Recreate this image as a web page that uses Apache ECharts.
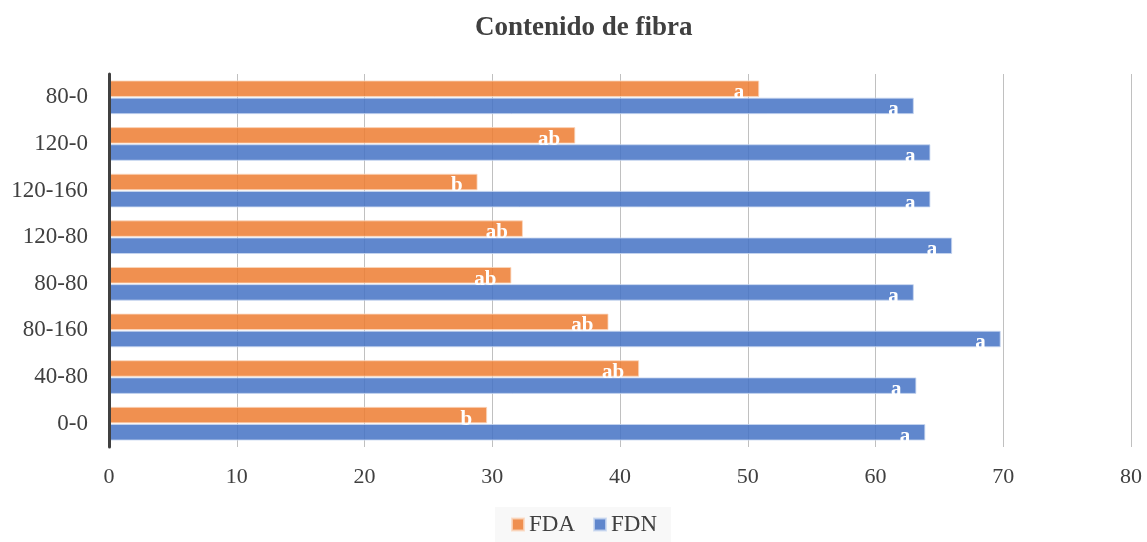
<!DOCTYPE html>
<html>
<head>
<meta charset="utf-8">
<script src="https://cdn.jsdelivr.net/npm/echarts@6/dist/echarts.min.js"></script>
<style>html,body{margin:0;padding:0;background:#fff}#c{width:1147px;height:542px}</style>
</head>
<body>
<div id="c"></div>
<script>
const categories = ['0-0','40-80','80-160','80-80','120-80','120-160','120-0','80-0'];
const fdaValues = [29.6, 41.5, 39.1, 31.5, 32.4, 28.85, 36.5, 50.9];
const fdnValues = [63.9, 63.2, 69.8, 63.0, 66.0, 64.3, 64.3, 63.0];
const fdaLetters = ['b','ab','ab','ab','ab','b','ab','a'];
const fdnLetters = ['a','a','a','a','a','a','a','a'];
const xTicks = [0,10,20,30,40,50,60,70,80];

const serif = '"Liberation Serif", "DejaVu Serif", serif';
const chart = echarts.init(document.getElementById('c'), null, {renderer:'canvas'});
function lbl(letters){
  return {show:true, position:'insideRight', offset:[-10,4], color:'#fff', fontFamily:serif,
    fontWeight:'bold', fontSize:21, formatter:p=>letters[p.dataIndex]};
}
chart.setOption({
  animation:false,
  title:{text:'Contenido de fibra', left:470, top:10,
    textStyle:{fontFamily:serif, fontWeight:'bold', fontSize:27, color:'#404040'}},
  legend:{bottom:0, left:495, icon:'rect', itemWidth:12, itemHeight:12, itemGap:18,
    backgroundColor:'#f8f8f8', padding:[6,14,6,16],
    textStyle:{fontFamily:serif, fontSize:23, color:'#404040'},
    data:['FDA','FDN']},
  grid:{left:109, right:16, top:74, bottom:95, containLabel:false},
  xAxis:{type:'value', min:0, max:80, interval:10,
    axisLine:{show:false}, axisTick:{show:false},
    axisLabel:{fontFamily:serif, fontSize:22, color:'#404040', margin:19,
      formatter:v=>xTicks.includes(v)?String(v):''},
    splitLine:{lineStyle:{color:'#c0c0c0', width:1}}},
  yAxis:{type:'category', data:categories, z:5,
    axisLine:{lineStyle:{color:'#404040', width:3}}, axisTick:{show:false},
    axisLabel:{fontFamily:serif, fontSize:23, color:'#404040', margin:21}},
  series:[
    {name:'FDA', type:'bar', data:fdaValues, barWidth:16.5, barGap:'4%',
      itemStyle:{color:'rgba(237,125,49,0.85)', borderColor:'rgba(250,215,190,0.8)', borderWidth:1},
      label:lbl(fdaLetters)},
    {name:'FDN', type:'bar', data:fdnValues, barWidth:16.5, barGap:'4%',
      itemStyle:{color:'rgba(68,114,196,0.85)', borderColor:'rgba(200,215,240,0.8)', borderWidth:1},
      label:lbl(fdnLetters)}
  ]
});
</script>
</body>
</html>
